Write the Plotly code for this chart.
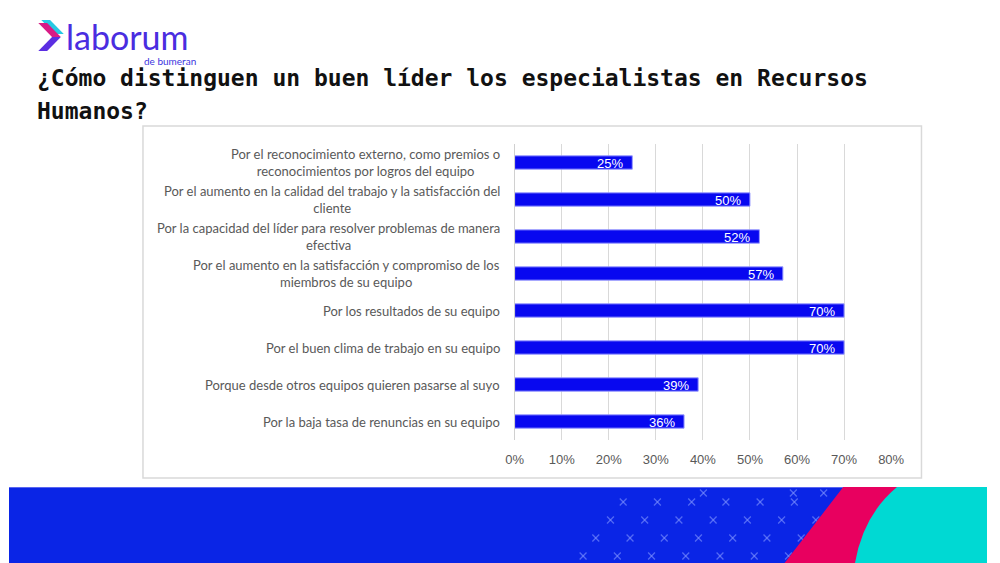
import plotly.graph_objects as go

# ---------------- data ----------------
categories = [
    "Por el reconocimiento externo, como premios o<br>reconocimientos por logros del equipo",
    "Por el aumento en la calidad del trabajo y la satisfacción del<br>cliente",
    "Por la capacidad del líder para resolver problemas de manera<br>efectiva",
    "Por el aumento en la satisfacción y compromiso de los<br>miembros de su equipo",
    "Por los resultados de su equipo",
    "Por el buen clima de trabajo en su equipo",
    "Porque desde otros equipos quieren pasarse al suyo",
    "Por la baja tasa de renuncias en su equipo",
]
values = [0.25, 0.50, 0.52, 0.57, 0.70, 0.70, 0.39, 0.36]
tick_vals = [0, 0.1, 0.2, 0.3, 0.4, 0.5, 0.6, 0.7, 0.8]
tick_text = ["0%", "10%", "20%", "30%", "40%", "50%", "60%", "70%", "80%"]
title_line1 = "¿Cómo distinguen un buen líder los especialistas en Recursos"
title_line2 = "Humanos?"

W, H = 1000, 563


def px(x):
    return x / W


def py(y):
    return 1 - y / H


fig = go.Figure()
fig.add_trace(go.Bar(
    x=values,
    y=categories,
    orientation="h",
    marker=dict(color="#0808f0", line=dict(color="#9a9cff", width=1)),
    width=0.36,
    hoverinfo="skip",
    showlegend=False,
))

annotations = []
# bar value labels
for c, v in zip(categories, values):
    annotations.append(dict(
        x=v, y=c, xref="x", yref="y", text=f"{round(v*100)}%",
        showarrow=False, xanchor="right", yanchor="middle", xshift=-7, yshift=-1,
        font=dict(family="Liberation Sans", size=13, color="white"),
    ))
# category labels (centred wrapped lines, right-anchored block)
for c in categories:
    annotations.append(dict(
        x=px(504), y=c, xref="paper", yref="y", text=c,
        showarrow=False, xanchor="right", yanchor="middle", align="center",
        font=dict(family="Lato", size=13, color="#595959"),
    ))
# title
annotations.append(dict(x=px(27), y=py(78), xref="paper", yref="paper", text=title_line1,
                        showarrow=False, xanchor="left", yanchor="middle",
                        font=dict(family="DejaVu Sans Mono", size=23, color="#111111", weight="bold")))
annotations.append(dict(x=px(27), y=py(111), xref="paper", yref="paper", text=title_line2,
                        showarrow=False, xanchor="left", yanchor="middle",
                        font=dict(family="DejaVu Sans Mono", size=23, color="#111111", weight="bold")))
# logo text
annotations.append(dict(x=px(56), y=py(36), xref="paper", yref="paper", text="laborum",
                        showarrow=False, xanchor="left", yanchor="middle",
                        font=dict(family="Lato", size=34, color="#4a2de0")))
annotations.append(dict(x=px(193), y=py(61), xref="paper", yref="paper", text="de bumeran",
                        showarrow=False, xanchor="right", yanchor="middle",
                        font=dict(family="Lato", size=10, color="#3b35e0")))

shapes = []


def path(pts, color, close=True):
    d = "M " + " L ".join(f"{px(x):.5f},{py(y):.5f}" for x, y in pts)
    if close:
        d += " Z"
    return dict(type="path", path=d, xref="paper", yref="paper",
                fillcolor=color, line=dict(width=0), layer="above")


# chart frame
shapes.append(dict(type="rect", xref="paper", yref="paper", x0=px(137), x1=px(933),
                   y0=py(478), y1=py(126), line=dict(color="#d9d9d9", width=1.5),
                   fillcolor="rgba(0,0,0,0)", layer="below"))

# logo chevron
shapes.append(path([(33, 20), (42, 20), (56, 34), (47, 34)], "#27c9e3"))
shapes.append(path([(30, 23), (39, 23), (53, 37), (44, 37)], "#d81b86"))
shapes.append(path([(44, 37), (53, 37), (39, 51), (30, 51)], "#5b2ee2"))

# bottom band
shapes.append(dict(type="rect", xref="paper", yref="paper", x0=0, x1=1, y0=0, y1=py(487),
                   fillcolor="#0a25e6", line=dict(width=0), layer="above"))
shapes.append(dict(type="line", xref="paper", yref="paper", x0=0, x1=px(853), y0=py(487.5), y1=py(487.5),
                   line=dict(color="#5a66f0", width=1), layer="above"))
# X pattern
rows = [(493, 640, 3), (502, 628, 6), (520, 615, 7), (538, 600, 7), (556, 587, 7)]
for (yy, x0, n) in rows:
    for i in range(n):
        cx = x0 + i * 35
        if yy == 493 and i < 2:
            cx = x0 + 162 + i * 31
        s = 3.5
        for (dx0, dy0, dx1, dy1) in [(-s, -s, s, s), (-s, s, s, -s)]:
            shapes.append(dict(type="line", xref="paper", yref="paper",
                               x0=px(cx + dx0), y0=py(yy + dy0), x1=px(cx + dx1), y1=py(yy + dy1),
                               line=dict(color="rgba(130,150,255,0.6)", width=1.3), layer="above"))
# pink band
shapes.append(path([(853, 487), (1000, 487), (1000, 563), (793, 563)], "#e8005f"))
# cyan area with curved edge
d = (f"M {px(908):.5f},{py(487):.5f} L 1,{py(487):.5f} L 1,0 L {px(865):.5f},0 "
     f"Q {px(873.5):.5f},{py(515):.5f} {px(908):.5f},{py(487):.5f} Z")
shapes.append(dict(type="path", path=d, xref="paper", yref="paper",
                   fillcolor="#00d9d3", line=dict(width=0), layer="above"))

fig.update_layout(
    width=W, height=H,
    margin=dict(l=0, r=0, t=0, b=0),
    paper_bgcolor="white", plot_bgcolor="white",
    xaxis=dict(domain=[px(517), px(902)], range=[0, 0.8], tickvals=tick_vals, ticktext=tick_text,
               showgrid=True, gridcolor="#d9d9d9", gridwidth=1, zeroline=False,
               showline=False, ticks="", ticklabelstandoff=10,
               tickfont=dict(family="Liberation Sans", size=13, color="#595959"),
               fixedrange=True),
    yaxis=dict(domain=[py(440), py(144)], autorange="reversed", showticklabels=False,
               showgrid=False, zeroline=False, showline=True, linecolor="#d0d0d0", linewidth=1,
               ticks="", fixedrange=True),
    bargap=0.64,
    annotations=annotations,
    shapes=shapes,
    showlegend=False,
)

post = ("document.body.style.margin='0';document.body.style.overflow='hidden';"
        "var gd=document.getElementById('{plot_id}');"
        "Plotly.relayout(gd,{width:1000,height:563});")
fig.write_html("out.html", post_script=post, config={"displayModeBar": False})
